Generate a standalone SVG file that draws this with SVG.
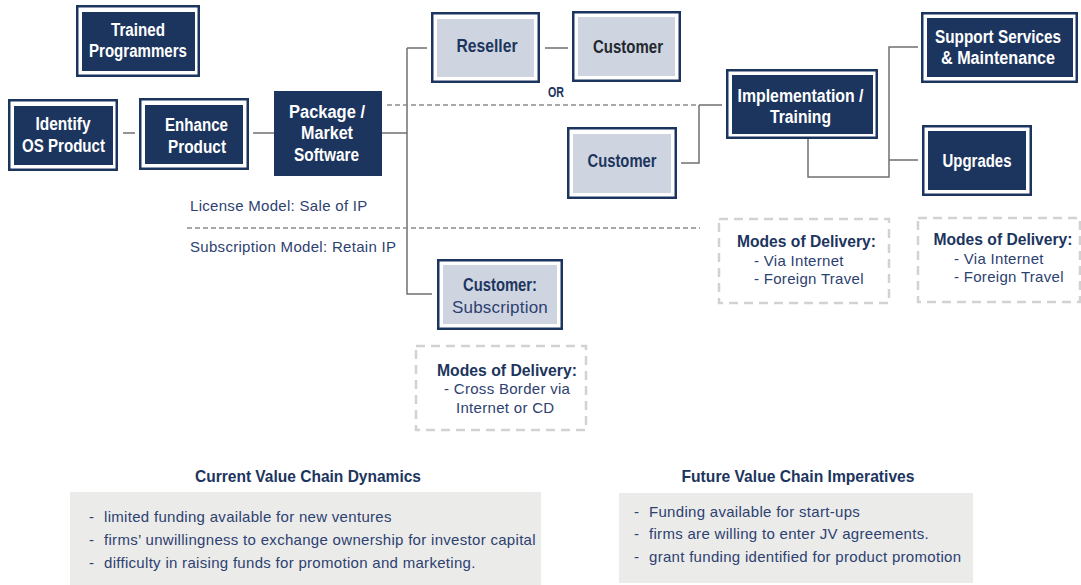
<svg xmlns="http://www.w3.org/2000/svg" width="1081" height="585" viewBox="0 0 1081 585">
<style>
.ob{fill:#fff;stroke:#1c355e;stroke-width:2.5}
.in{fill:#1c355e}
.lt{fill:#cfd5e0}
.dash{fill:none;stroke:#d2d2d2;stroke-width:2.5;stroke-dasharray:9 6}
.b{font-family:"Liberation Sans",Arial,sans-serif;font-weight:bold;font-size:18px;text-anchor:middle}
.w{fill:#fff}
.n{fill:#1c355e}
.k{fill:#23272f}
.r{font-family:"Liberation Sans",Arial,sans-serif;font-size:15px;fill:#2d4170;letter-spacing:0.3px}
.h{font-family:"Liberation Sans",Arial,sans-serif;font-weight:bold;font-size:16.5px;fill:#1c355e;text-anchor:middle}
.hh{font-size:17px}
.con{fill:none;stroke:#707070;stroke-width:1.5}
.dl{fill:none;stroke:#8c8c8c;stroke-width:1.5;stroke-dasharray:5 3}
</style>
<rect width="1081" height="585" fill="#fff"/>
<g id="connectors">
<path class="con" d="M123 133H135M253 133H274M382 133H407M407 48V294H432M407 48H427M545 48H568"/>
<path class="dl" d="M387 105H699"/>
<path class="con" d="M699 105H722M699 105V163H681"/>
<path class="con" d="M808 139V177H889V47H918M889 160H918"/>
<path class="dl" d="M187 228H700"/>
</g>
<g id="trained">
<rect class="ob" x="77.25" y="6.25" width="121.5" height="69.5"/>
<rect class="in" x="82" y="12" width="113" height="59"/>
<text class="b w" x="138" y="36" textLength="54" lengthAdjust="spacingAndGlyphs">Trained</text>
<text class="b w" x="138" y="57" textLength="98" lengthAdjust="spacingAndGlyphs">Programmers</text>
</g>
<g id="identify">
<rect class="ob" x="9.25" y="100.25" width="107.5" height="69.5"/>
<rect class="in" x="14" y="106" width="99" height="59"/>
<text class="b w" x="63" y="130" textLength="55" lengthAdjust="spacingAndGlyphs">Identify</text>
<text class="b w" x="63.5" y="152" textLength="83" lengthAdjust="spacingAndGlyphs">OS Product</text>
</g>
<g id="enhance">
<rect class="ob" x="140.25" y="99.25" width="107.5" height="69.5"/>
<rect class="in" x="145" y="105" width="98" height="59"/>
<text class="b w" x="196.5" y="131" textLength="63" lengthAdjust="spacingAndGlyphs">Enhance</text>
<text class="b w" x="197" y="153" textLength="58" lengthAdjust="spacingAndGlyphs">Product</text>
</g>
<g id="package">
<rect class="in" x="274" y="91" width="108" height="85"/>
<text class="b w" x="327" y="118" textLength="76" lengthAdjust="spacingAndGlyphs">Package /</text>
<text class="b w" x="327" y="139" textLength="52" lengthAdjust="spacingAndGlyphs">Market</text>
<text class="b w" x="326.5" y="161" textLength="65" lengthAdjust="spacingAndGlyphs">Software</text>
</g>
<g id="reseller">
<rect class="ob" x="432.25" y="13.25" width="106.5" height="68.5"/>
<rect class="lt" x="437" y="19" width="97" height="58"/>
<text class="b n" x="487" y="52" textLength="61" lengthAdjust="spacingAndGlyphs">Reseller</text>
</g>
<g id="customer-top">
<rect class="ob" x="573.25" y="12.25" width="106.5" height="68.5"/>
<rect class="lt" x="578" y="17" width="97" height="59"/>
<text class="b k" x="628" y="53" textLength="70" lengthAdjust="spacingAndGlyphs">Customer</text>
</g>
<text class="b n" x="556" y="97" style="font-size:14px" textLength="16" lengthAdjust="spacingAndGlyphs">OR</text>
<g id="customer-mid">
<rect class="ob" x="568.25" y="128.25" width="107.5" height="69.5"/>
<rect class="lt" x="573" y="134" width="98" height="59"/>
<text class="b n" x="622" y="167" textLength="69" lengthAdjust="spacingAndGlyphs">Customer</text>
</g>
<g id="implementation">
<rect class="ob" x="727.25" y="70.25" width="149.5" height="67.5"/>
<rect class="in" x="732" y="75" width="141" height="59"/>
<text class="b w" x="800.5" y="102" textLength="126" lengthAdjust="spacingAndGlyphs">Implementation /</text>
<text class="b w" x="800.5" y="123" textLength="61" lengthAdjust="spacingAndGlyphs">Training</text>
</g>
<g id="support">
<rect class="ob" x="922.25" y="13.25" width="154.5" height="68.5"/>
<rect class="in" x="927" y="18" width="146" height="59"/>
<text class="b w" x="998" y="43" textLength="126" lengthAdjust="spacingAndGlyphs">Support Services</text>
<text class="b w" x="998" y="64" textLength="114" lengthAdjust="spacingAndGlyphs">&amp; Maintenance</text>
</g>
<g id="upgrades">
<rect class="ob" x="923.25" y="126.25" width="107.5" height="68.5"/>
<rect class="in" x="928" y="131" width="98" height="59"/>
<text class="b w" x="977" y="167" textLength="69" lengthAdjust="spacingAndGlyphs">Upgrades</text>
</g>
<g id="customer-subscription">
<rect class="ob" x="438.25" y="260.25" width="123.5" height="68.5"/>
<rect class="lt" x="443" y="265" width="114" height="59"/>
<text class="b n" x="500" y="291" textLength="74" lengthAdjust="spacingAndGlyphs">Customer:</text>
<text class="r" x="500" y="313" style="font-size:17px;text-anchor:middle;letter-spacing:0.2px">Subscription</text>
</g>
<text class="r" x="190" y="211">License Model: Sale of IP</text>
<text class="r" x="190" y="252">Subscription Model: Retain IP</text>
<g id="modes-1">
<rect class="dash" x="416" y="346" width="170" height="84"/>
<text class="h" x="507" y="376" textLength="140" lengthAdjust="spacingAndGlyphs">Modes of Delivery:</text>
<text class="r" x="444" y="394">- Cross Border via</text>
<text class="r" x="456" y="413">Internet or CD</text>
</g>
<g id="modes-2">
<rect class="dash" x="719" y="219" width="170" height="84"/>
<text class="h" x="806.5" y="247" textLength="139" lengthAdjust="spacingAndGlyphs">Modes of Delivery:</text>
<text class="r" x="754" y="266">- Via Internet</text>
<text class="r" x="754" y="284">- Foreign Travel</text>
</g>
<g id="modes-3">
<rect class="dash" x="918" y="218" width="162" height="84"/>
<text class="h" x="1003" y="245" textLength="139" lengthAdjust="spacingAndGlyphs">Modes of Delivery:</text>
<text class="r" x="954" y="264">- Via Internet</text>
<text class="r" x="954" y="282">- Foreign Travel</text>
</g>
<g id="current">
<text class="h hh" x="308" y="482" textLength="226" lengthAdjust="spacingAndGlyphs">Current Value Chain Dynamics</text>
<rect x="70" y="492" width="471" height="93" fill="#ebebea"/>
<text class="r" x="89" y="522">-</text><text class="r" x="104" y="522">limited funding available for new ventures</text>
<text class="r" x="89" y="545">-</text><text class="r" x="104" y="545">firms’ unwillingness to exchange ownership for investor capital</text>
<text class="r" x="89" y="568">-</text><text class="r" x="104" y="568">difficulty in raising funds for promotion and marketing.</text>
</g>
<g id="future">
<text class="h hh" x="798" y="482" textLength="233" lengthAdjust="spacingAndGlyphs">Future Value Chain Imperatives</text>
<rect x="619" y="493" width="354" height="90" fill="#ebebea"/>
<text class="r" x="634" y="517">-</text><text class="r" x="649" y="517">Funding available for start-ups</text>
<text class="r" x="634" y="539">-</text><text class="r" x="649" y="539">firms are willing to enter JV agreements.</text>
<text class="r" x="634" y="562">-</text><text class="r" x="649" y="562">grant funding identified for product promotion</text>
</g>
</svg>
